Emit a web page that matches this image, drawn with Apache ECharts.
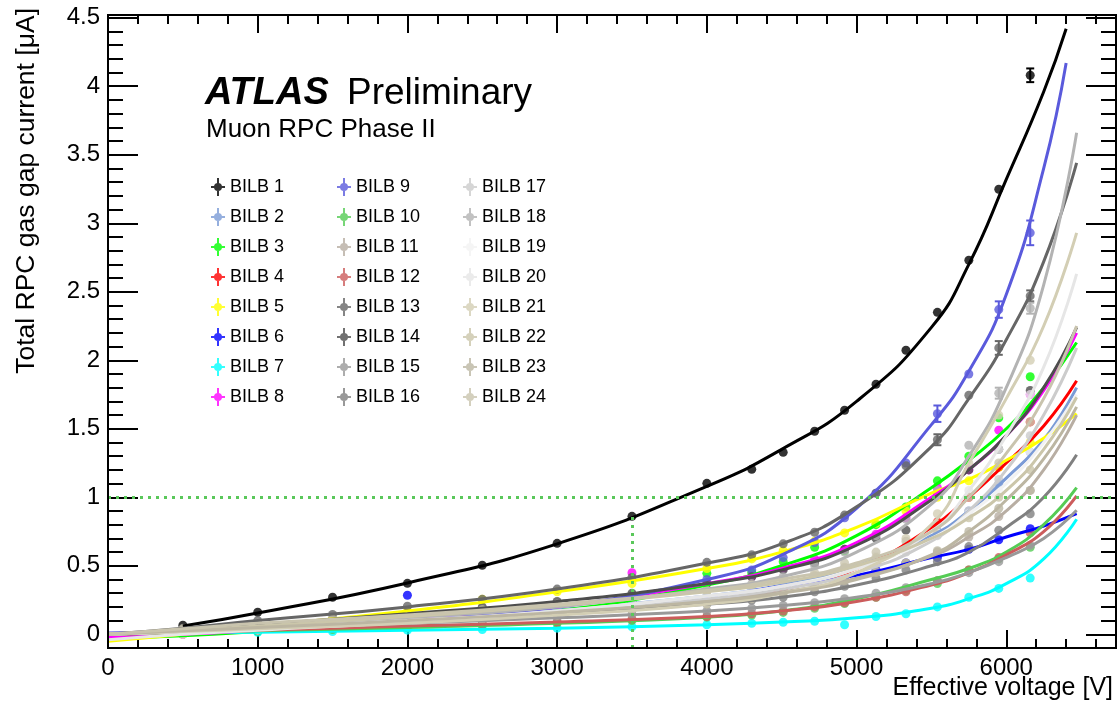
<!DOCTYPE html>
<html><head><meta charset="utf-8">
<script src="https://cdn.jsdelivr.net/npm/echarts@6/dist/echarts.min.js"></script>
<style>html,body{margin:0;padding:0;background:#fff}#c{width:1117px;height:705px}</style>
</head><body><div id="c"></div>
<script>
// ---------------- data ----------------
const chamberNames = ['BILB 1','BILB 2','BILB 3','BILB 4','BILB 5','BILB 6','BILB 7','BILB 8','BILB 9','BILB 10','BILB 11','BILB 12','BILB 13','BILB 14','BILB 15','BILB 16','BILB 17','BILB 18','BILB 19','BILB 20','BILB 21','BILB 22','BILB 23','BILB 24'];
const chamberColors = ['#000000','#7b9bd6','#00ff00','#ff0000','#ffff00','#0000ff','#00ffff','#ff00ff','#5a5adc','#55cc55','#b8aea3','#cc5c5c','#666666','#4d4d4d','#999999','#808080','#cccccc','#b3b3b3','#f2f2f2','#e6e6e6','#d3ceb4','#cbc6aa','#bcb6a2','#c9c4ae'];

// measured points: effective voltage [V]
const voltage = [500,1000,1500,2000,2500,3000,3500,4000,4300,4510,4720,4920,5130,5330,5540,5750,5950,6160];
// fit curve sample voltages (last sample = fitEnd of each chamber)
const fitVoltage = [0,500,1000,2000,3000,4000,4500,5000,5500,5750,6000,6250];
const fitEnd = [6400,6470,6470,6470,6470,6470,6470,6470,6400,6470,6470,6470,6470,6470,6470,6470,6470,6470,6470,6470,6470,6470,6470,6470];

const pts01 = [0.066,0.161,0.27,0.372,0.504,0.664,0.861,1.102,1.204,1.328,1.482,1.635,1.825,2.073,2.35,2.73,3.248,4.08];
const fit01 = [null,0.06,0.155,0.375,0.66,1.08,1.35,1.7,2.24,2.7,3.32,3.96,4.42];
const pts02 = [0.02,0.05,0.08,0.11,0.145,0.18,0.23,0.28,0.33,0.36,0.42,0.48,0.55,0.64,0.75,0.90,1.10,1.33];
const fit02 = [0,0.02,0.05,0.11,0.18,0.28,0.36,0.5,0.72,0.9,1.14,1.42,1.80];
const pts03 = [0.0,0.02,0.05,0.09,0.13,0.17,0.24,0.445,0.45,0.53,0.635,0.61,0.80,0.93,1.12,1.30,1.58,1.88];
const fit03 = [-0.03,-0.01,0.02,0.09,0.17,0.36,0.5,0.72,1.07,1.27,1.5,1.8,2.13];
const pts04 = [0.02,0.04,0.065,0.09,0.12,0.15,0.2,0.25,0.29,0.33,0.38,0.45,0.52,0.63,0.82,1.0,1.22,1.55];
const fit04 = [0,0.02,0.04,0.09,0.15,0.25,0.33,0.48,0.78,1.0,1.25,1.52,1.85];
const pts05 = [0.0,0.06,0.11,0.17,0.255,0.31,0.37,0.48,0.55,0.61,0.68,0.74,0.81,0.9,1.0,1.12,1.22,1.40];
const fit05 = [-0.05,0.0,0.06,0.17,0.31,0.48,0.6,0.78,1.03,1.13,1.27,1.43,1.61];
const pts06 = [0.03,0.05,0.075,0.285,0.13,0.155,0.19,0.27,0.30,0.35,0.39,0.42,0.47,0.52,0.56,0.62,0.69,0.77];
const fit06 = [0,0.03,0.05,0.1,0.155,0.27,0.35,0.43,0.56,0.62,0.71,0.79,0.88];
const pts07 = [0.01,0.015,0.02,0.03,0.035,0.045,0.055,0.07,0.08,0.088,0.095,0.07,0.13,0.15,0.2,0.27,0.335,0.41];
const fit07 = [0,0.01,0.015,0.03,0.045,0.07,0.09,0.12,0.19,0.26,0.37,0.55,0.84];
const pts08 = [0.0,0.03,0.06,0.1,0.15,0.2,0.45,0.37,0.42,0.48,0.55,0.62,0.73,0.85,1.07,1.2,1.49,1.75];
const fit08 = [-0.02,0.0,0.03,0.1,0.2,0.37,0.48,0.67,1.0,1.2,1.45,1.78,2.2];
const pts09 = [0.02,0.04,0.07,0.1,0.14,0.2,0.28,0.4,0.47,0.56,0.67,0.85,1.03,1.25,1.61,1.90,2.37,2.93];
const fit09 = [0.01,0.02,0.04,0.1,0.2,0.4,0.58,0.92,1.53,1.92,2.48,3.4,4.17];
const pts10 = [0.01,0.025,0.035,0.05,0.065,0.08,0.1,0.125,0.14,0.16,0.19,0.225,0.27,0.32,0.37,0.47,0.55,0.635];
const fit10 = [0,0.01,0.025,0.05,0.08,0.125,0.17,0.26,0.4,0.48,0.6,0.8,1.07];
const pts11 = [0.02,0.05,0.075,0.1,0.13,0.16,0.2,0.25,0.28,0.31,0.35,0.4,0.46,0.52,0.6,0.71,0.86,1.05];
const fit11 = [0,0.02,0.05,0.1,0.16,0.25,0.31,0.41,0.57,0.71,0.9,1.2,1.6];
const pts12 = [0.015,0.03,0.045,0.06,0.075,0.09,0.11,0.13,0.15,0.17,0.2,0.23,0.27,0.31,0.39,0.47,0.56,0.74];
const fit12 = [0,0.015,0.03,0.06,0.09,0.13,0.17,0.24,0.36,0.45,0.58,0.75,1.01];
const pts13 = [0.045,0.1,0.145,0.205,0.255,0.33,0.415,0.525,0.58,0.66,0.745,0.87,1.03,1.23,1.42,1.745,2.09,2.47];
const fit13 = [0,0.045,0.1,0.2,0.33,0.52,0.66,0.93,1.37,1.72,2.15,2.72,3.44];
const pts14 = [0.03,0.07,0.11,0.15,0.2,0.24,0.3,0.37,0.42,0.47,0.52,0.62,0.7,0.76,1.02,1.2,1.35,1.78];
const fit14 = [0,0.03,0.07,0.15,0.24,0.37,0.47,0.65,0.98,1.2,1.45,1.8,2.24];
const pts15 = [0.02,0.04,0.06,0.08,0.1,0.12,0.145,0.17,0.19,0.21,0.23,0.26,0.3,0.34,0.39,0.45,0.53,0.65];
const fit15 = [0,0.02,0.04,0.08,0.12,0.17,0.21,0.27,0.37,0.45,0.56,0.7,0.905];
const pts16 = [0.02,0.05,0.075,0.1,0.125,0.15,0.18,0.22,0.25,0.27,0.31,0.35,0.41,0.47,0.53,0.64,0.76,0.88];
const fit16 = [0,0.02,0.05,0.1,0.15,0.22,0.27,0.36,0.5,0.6,0.78,1.0,1.31];
const pts17 = [0.02,0.04,0.065,0.09,0.125,0.16,0.2,0.26,0.3,0.33,0.38,0.44,0.52,0.6,0.72,0.9,1.13,1.45];
const fit17 = [0,0.02,0.04,0.09,0.16,0.26,0.33,0.45,0.68,0.9,1.2,1.6,2.09];
const pts18 = [0.02,0.04,0.07,0.1,0.14,0.19,0.24,0.32,0.37,0.42,0.5,0.6,0.72,0.84,1.05,1.38,1.76,2.38];
const fit18 = [0,0.02,0.05,0.12,0.2,0.33,0.42,0.6,0.95,1.3,1.8,2.55,3.66];
const pts19 = [0.02,0.05,0.075,0.1,0.135,0.17,0.22,0.28,0.32,0.35,0.41,0.47,0.55,0.63,0.74,0.88,1.05,1.33];
const fit19 = [0,0.02,0.05,0.1,0.17,0.28,0.35,0.48,0.7,0.88,1.1,1.4,1.75];
const pts20 = [0.0,0.03,0.06,0.09,0.13,0.17,0.22,0.28,0.32,0.35,0.41,0.47,0.57,0.65,0.8,1.05,1.35,1.75];
const fit20 = [-0.04,0.0,0.03,0.09,0.17,0.28,0.35,0.48,0.75,1.05,1.45,1.95,2.63];
const pts21 = [0.02,0.04,0.06,0.08,0.11,0.14,0.18,0.22,0.26,0.3,0.35,0.43,0.55,0.7,0.88,1.25,1.6,2.0];
const fit21 = [0,0.02,0.04,0.08,0.14,0.22,0.3,0.45,0.8,1.25,1.72,2.25,2.93];
const pts22 = [0.03,0.06,0.095,0.13,0.17,0.21,0.26,0.31,0.35,0.38,0.43,0.49,0.56,0.64,0.73,0.85,1.0,1.2];
const fit22 = [0,0.03,0.06,0.13,0.21,0.31,0.38,0.5,0.7,0.85,1.05,1.35,1.73];
const pts23 = [0.025,0.05,0.075,0.1,0.13,0.16,0.2,0.24,0.27,0.3,0.34,0.39,0.45,0.52,0.61,0.75,0.92,1.05];
const fit23 = [0,0.025,0.05,0.1,0.16,0.24,0.3,0.4,0.58,0.75,0.98,1.28,1.66];
const pts24 = [0.04,0.08,0.11,0.14,0.18,0.22,0.27,0.32,0.36,0.4,0.45,0.52,0.6,0.68,0.8,1.0,1.25,1.55];
const fit24 = [0,0.04,0.08,0.14,0.22,0.32,0.4,0.52,0.75,1.0,1.32,1.72,2.25];

// visible error bars: [chamber number, voltage, half width]
const errorBars = [[1,6160,0.05],[9,6160,0.09],[9,5950,0.06],[9,5540,0.06],[13,6160,0.04],[13,5950,0.05],[13,5540,0.04],[18,5950,0.04],[18,6160,0.04]];

// reference lines
const thresholdCurrent = 1.0;
const operatingVoltage = 3500;
const operatingCurrent = 0.86;

// axes
const xMin = 0, xMax = 6733, yMin = -0.1, yMax = 4.52;
const xMajor = [0,1000,2000,3000,4000,5000,6000];
const xMinor = [200,400,600,800,1200,1400,1600,1800,2200,2400,2600,2800,3200,3400,3600,3800,4200,4400,4600,4800,5200,5400,5600,5800,6200,6400,6600];
const yMajor = [0,0.5,1,1.5,2,2.5,3,3.5,4,4.5];
const yMinor = [-0.1,0.1,0.2,0.3,0.4,0.6,0.7,0.8,0.9,1.1,1.2,1.3,1.4,1.6,1.7,1.8,1.9,2.1,2.2,2.3,2.4,2.6,2.7,2.8,2.9,3.1,3.2,3.3,3.4,3.6,3.7,3.8,3.9,4.1,4.2,4.3,4.4];

// ---------------- chart ----------------
const allPts = [pts01,pts02,pts03,pts04,pts05,pts06,pts07,pts08,pts09,pts10,pts11,pts12,pts13,pts14,pts15,pts16,pts17,pts18,pts19,pts20,pts21,pts22,pts23,pts24];
const allFit = [fit01,fit02,fit03,fit04,fit05,fit06,fit07,fit08,fit09,fit10,fit11,fit12,fit13,fit14,fit15,fit16,fit17,fit18,fit19,fit20,fit21,fit22,fit23,fit24];
const FONT = '"Liberation Sans", Arial, Helvetica, sans-serif';

const series = [];
series.push({
  type: 'line', name: 'ref', xAxisIndex: 0, yAxisIndex: 0, data: [], silent: true,
  markLine: {
    silent: true, symbol: 'none', animation: false, label: {show: false},
    lineStyle: {color: '#5ac85a', width: 3, type: [3, 5]},
    data: [
      {yAxis: thresholdCurrent},
      [{coord: [operatingVoltage, yMin]}, {coord: [operatingVoltage, operatingCurrent]}]
    ]
  }
});
series.push({
  type: 'custom', name: 'errors', xAxisIndex: 0, yAxisIndex: 0, silent: true,
  encode: {x: 0, y: 1},
  data: errorBars.map(e => {
    const idx = e[0] - 1;
    const y = allPts[idx][voltage.indexOf(e[1])];
    return {value: [e[1], y, e[2]], itemStyle: {color: chamberColors[idx]}};
  }),
  renderItem: (params, api) => {
    const x = api.value(0), y = api.value(1), er = api.value(2);
    const t = api.coord([x, y + er]), b = api.coord([x, y - er]);
    const c = api.visual('color');
    const st = {stroke: c, lineWidth: 2};
    return {type: 'group', children: [
      {type: 'line', shape: {x1: t[0], y1: t[1], x2: b[0], y2: b[1]}, style: st},
      {type: 'line', shape: {x1: t[0] - 4, y1: t[1], x2: t[0] + 4, y2: t[1]}, style: st},
      {type: 'line', shape: {x1: b[0] - 4, y1: b[1], x2: b[0] + 4, y2: b[1]}, style: st}
    ]};
  }
});
chamberNames.forEach((name, i) => {
  const pts = allPts[i], fit = allFit[i];
  const fitX = fitVoltage.concat([fitEnd[i]]);
  series.push({
    type: 'scatter', name, xAxisIndex: 0, yAxisIndex: 0,
    symbol: 'circle', symbolSize: 9,
    itemStyle: {color: chamberColors[i]},
    emphasis: {disabled: true}, silent: true,
    data: voltage.map((v, k) => [v, pts[k]]).filter(d => d[1] !== null)
  });
  series.push({
    type: 'line', name, xAxisIndex: 0, yAxisIndex: 0,
    smooth: 0.5, showSymbol: false, symbol: 'none',
    lineStyle: {color: chamberColors[i], width: 3},
    itemStyle: {color: chamberColors[i]},
    emphasis: {disabled: true}, silent: true,
    data: fitX.map((v, k) => [v, fit[k]]).filter(d => d[1] !== null)
  });
});

const legendIcon = 'path://M0,8H14V10H0Z M6,0H8V18H6Z M11,9A4,4,0,1,1,3,9A4,4,0,1,1,11,9Z';
const legendLeft = [211, 337, 463];
const legends = [0, 1, 2].map(col => ({
  orient: 'vertical', left: legendLeft[col], top: 178, padding: 0,
  itemWidth: 14, itemHeight: 18, itemGap: 12, selectedMode: false,
  itemStyle: {borderWidth: 0},
  textStyle: {fontSize: 18, fontFamily: FONT, color: '#000', lineHeight: 18},
  data: chamberNames.slice(col * 8, col * 8 + 8).map((n, k) => ({
    name: n, icon: legendIcon, itemStyle: {color: chamberColors[col * 8 + k], borderWidth: 0}
  }))
}));

const tickStyle = {color: '#000', width: 2};
function xAx(grid, pos, vals, len, label) {
  return {
    type: 'value', gridIndex: grid, position: pos, min: xMin, max: xMax,
    axisLine: {show: false, onZero: false}, splitLine: {show: false},
    axisTick: {show: true, inside: true, length: len, customValues: vals, lineStyle: tickStyle},
    axisLabel: label ? {show: true, customValues: vals, margin: 8, fontSize: 24, fontFamily: FONT, color: '#000', formatter: v => String(v)} : {show: false}
  };
}
function yAx(grid, pos, vals, len, label) {
  return {
    type: 'value', gridIndex: grid, position: pos, min: yMin, max: yMax,
    axisLine: {show: false, onZero: false}, splitLine: {show: false},
    axisTick: {show: true, inside: true, length: len, customValues: vals, lineStyle: tickStyle},
    axisLabel: label ? {show: true, customValues: vals, margin: 8, fontSize: 24, fontFamily: FONT, color: '#000', formatter: v => String(v)} : {show: false}
  };
}
const gridBox = {left: 108, right: 1, top: 15, bottom: 57, outerBoundsMode: 'none', containLabel: false};

const option = {
  animation: false,
  backgroundColor: '#fff',
  grid: [
    Object.assign({show: true, borderColor: '#000', borderWidth: 2, backgroundColor: 'rgba(0,0,0,0)', z: 10}, gridBox),
    Object.assign({show: false}, gridBox)
  ],
  xAxis: [xAx(0, 'bottom', xMajor, 18, true), xAx(0, 'top', xMajor, 18, false), xAx(1, 'bottom', xMinor, 9, false), xAx(1, 'top', xMinor, 9, false)],
  yAxis: [yAx(0, 'left', yMajor, 30, true), yAx(0, 'right', yMajor, 30, false), yAx(1, 'left', yMinor, 15, false), yAx(1, 'right', yMinor, 15, false)],
  legend: legends,
  series,
  graphic: [
    {type: 'text', x: 205, y: 94, style: {text: 'ATLAS', font: 'italic bold 38px ' + FONT, fill: '#000', verticalAlign: 'middle'}},
    {type: 'text', x: 347, y: 94, style: {text: 'Preliminary', font: '37px ' + FONT, fill: '#000', verticalAlign: 'middle'}},
    {type: 'text', x: 206, y: 130, style: {text: 'Muon RPC Phase II', font: '26px ' + FONT, fill: '#000', verticalAlign: 'middle'}},
    {type: 'text', x: 1113, y: 688, style: {text: 'Effective voltage [V]', font: '25px ' + FONT, fill: '#000', align: 'right', verticalAlign: 'middle'}},
    {type: 'text', x: 27, y: 8, rotation: Math.PI / 2, style: {text: 'Total RPC gas gap current [μA]', font: '26.5px ' + FONT, fill: '#000', align: 'right', verticalAlign: 'middle'}}
  ]
};
const chart = echarts.init(document.getElementById('c'), null, {renderer: 'canvas'});
chart.setOption(option);
</script>
</body></html>
